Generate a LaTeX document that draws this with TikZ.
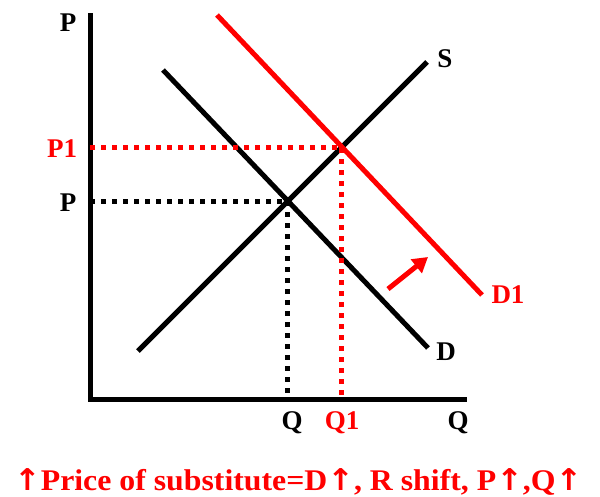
\documentclass[tikz,border=0pt]{standalone}
\usepackage{fontspec}
\setmainfont{Liberation Serif}
\newfontfamily\arrowfont{DejaVu Sans}
\usepackage{graphicx}
\usepackage{tikz}
\usetikzlibrary{arrows.meta,positioning,calc}
\definecolor{newred}{HTML}{FF0000}
\newcommand{\up}{{\arrowfont\bfseries ↑}}
\tikzset{
  curve/.style={line width=5pt},
  guide/.style={line width=5pt,dash pattern=on 5pt off 6pt},
  lbl/.style={font=\fontsize{27}{27}\selectfont\bfseries,inner sep=0pt}
}

\begin{document}
\begin{tikzpicture}[x=1pt,y=-1pt]
\useasboundingbox (0,0) rectangle (600,496);
% axes
\coordinate (top) at (90,13);
\coordinate (o) at (90,399);
\coordinate (right) at (467,399);
\draw[curve] (top) -- (o) -- (right);
% curves
\coordinate (d0) at (163,70);
\coordinate (d1) at (428,348);
\coordinate (s0) at (138,351);
\coordinate (s1) at (427,62);
\coordinate (n0) at (217,15);
\coordinate (n1) at (482,295);
\draw[curve] (d0) -- (d1);
\draw[curve] (s0) -- (s1);
\draw[curve,newred] (n0) -- (n1);
% equilibria
\coordinate (e) at (intersection of d0--d1 and s0--s1);
\coordinate (e1) at (intersection of n0--n1 and s0--s1);
\draw[guide] (o |- e) -- (e) -- (e |- o);
\draw[guide,newred] (o |- e1) -- (e1) -- (e1 |- o);
% shift arrow
\coordinate (a0) at (388,289);
\coordinate (a1) at (428,257);
\draw[line width=5pt,newred,-{Triangle[length=15pt,width=17pt]}] (a0) -- (a1);
% labels
\node[lbl] (pax) at (68,23) {P};
\node[lbl,newred] (p1) at (62,149) {P1};
\node[lbl] (p) at (68,203) {P};
\node[lbl] (q) at (292,423) {Q};
\node[lbl,newred] (q1) at (342,423) {Q1};
\node[lbl] (qax) at (458,423) {Q};
\node[lbl] (s) at (445,59) {S};
\node[lbl] (d) at (446,352) {D};
\node[lbl,newred] (dn) at (508,295) {D1};
\node[anchor=base west,inner sep=0pt,newred,font=\fontsize{30}{30}\selectfont\bfseries] (note) at (14,490)
  {\resizebox{568pt}{\height}{\up Price of substitute=D\up, R shift, P\up,Q\up}};
\end{tikzpicture}
\end{document}
